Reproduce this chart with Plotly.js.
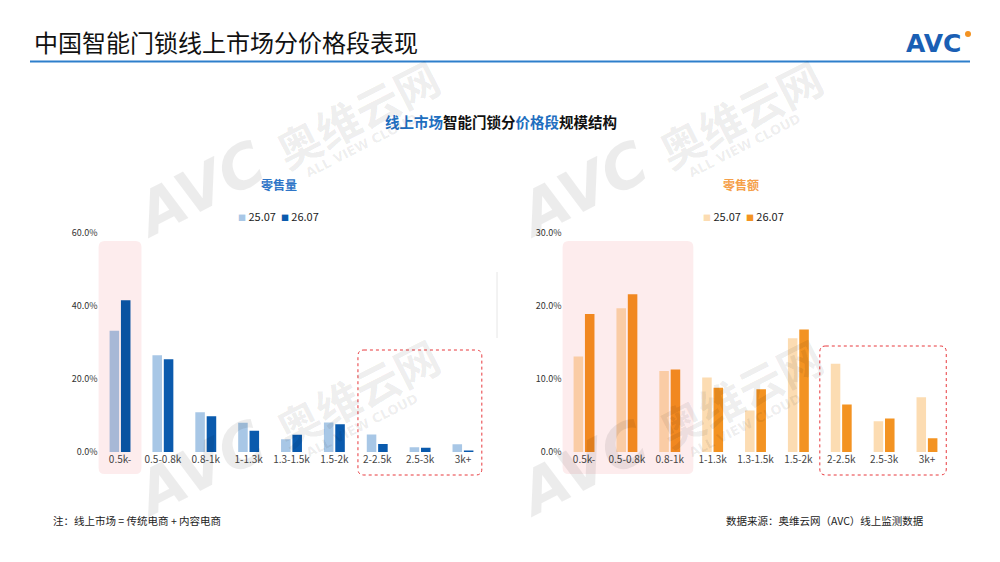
<!DOCTYPE html>
<html>
<head>
<meta charset="utf-8">
<script src="https://cdn.plot.ly/plotly-3.0.1.min.js"></script>
<style>
  html, body { margin: 0; padding: 0; background: #fff; }
  #chart { width: 1000px; height: 562px; }
</style>
</head>
<body>
<div id="chart"></div>
<script>
// price bands
var cats = ['0.5k-', '0.5-0.8k', '0.8-1k', '1-1.3k', '1.3-1.5k', '1.5-2k', '2-2.5k', '2.5-3k', '3k+'];
var periods = ['25.07', '26.07'];

// share of retail volume (%)
var volume2507 = [33.2, 26.5, 10.9, 8.0, 3.5, 8.1, 4.8, 1.3, 2.1];
var volume2607 = [41.6, 25.4, 9.8, 5.8, 4.7, 7.6, 2.2, 1.2, 0.4];

// share of retail sales (%)
var sales2507 = [13.1, 19.7, 11.1, 10.2, 5.7, 15.6, 12.1, 4.2, 7.5];
var sales2607 = [18.9, 21.6, 11.3, 8.8, 8.6, 16.8, 6.5, 4.6, 1.9];

var volTicks = [0, 20, 40, 60];
var salesTicks = [0, 10, 20, 30];

var W = 1000, H = 562;
var FONT = '"Noto Sans CJK SC", "Noto Sans", sans-serif';
var pink = '#fdeced';

var domX1 = [0.0986, 0.4844];
var domX2 = [0.5626, 0.9484];
var domY = [0.1957, 0.5854];

// bars sitting on the pink band look multiplied with it
function hex(c) { return [1, 3, 5].map(function (i) { return parseInt(c.substr(i, 2), 16); }); }
function multiply(c, m) {
  var a = hex(c), b = hex(m);
  return 'rgb(' + a.map(function (v, i) { return Math.round(v * b[i] / 255); }).join(',') + ')';
}
function colors(base, hot) {
  return cats.map(function (c, i) { return hot.indexOf(i) >= 0 ? multiply(base, pink) : base; });
}

var blueLight = '#a8c7e6', blueDark = '#0a5aad';
var orangeLight = '#fcdcb2', orangeDark = '#f39322';

var data = [
  { type: 'bar', name: periods[0], x: cats, y: volume2507, xaxis: 'x', yaxis: 'y',
    marker: { color: colors(blueLight, [0]) }, hoverinfo: 'skip' },
  { type: 'bar', name: periods[1], x: cats, y: volume2607, xaxis: 'x', yaxis: 'y',
    marker: { color: colors(blueDark, [0]) }, hoverinfo: 'skip' },
  { type: 'bar', name: periods[0], x: cats, y: sales2507, xaxis: 'x2', yaxis: 'y2',
    marker: { color: colors(orangeLight, [0, 1, 2]) }, hoverinfo: 'skip' },
  { type: 'bar', name: periods[1], x: cats, y: sales2607, xaxis: 'x2', yaxis: 'y2',
    marker: { color: colors(orangeDark, [0, 1, 2]) }, hoverinfo: 'skip' }
];

// x pixel of a category edge (index units, -0.5 = left edge)
function edge(dom, e) { return (dom[0] + (e + 0.5) / cats.length * (dom[1] - dom[0])) * W; }
function px(x) { return x / W; }
function py(y) { return 1 - y / H; }
function roundBox(x0, y0, x1, y1, r) {
  var rx = r / W, ry = r / H;
  var a = px(x0), b = px(x1), t = py(y0), u = py(y1);
  return 'M' + (a + rx) + ',' + t + ' L' + (b - rx) + ',' + t + ' Q' + b + ',' + t + ' ' + b + ',' + (t - ry) +
    ' L' + b + ',' + (u + ry) + ' Q' + b + ',' + u + ' ' + (b - rx) + ',' + u +
    ' L' + (a + rx) + ',' + u + ' Q' + a + ',' + u + ' ' + a + ',' + (u + ry) +
    ' L' + a + ',' + (t - ry) + ' Q' + a + ',' + t + ' ' + (a + rx) + ',' + t + ' Z';
}

var shapes = [
  { type: 'path', xref: 'paper', yref: 'paper', layer: 'below', path: roundBox(edge(domX1, -0.5), 241, edge(domX1, 0.5), 474, 6),
    fillcolor: pink, line: { width: 0 } },
  { type: 'path', xref: 'paper', yref: 'paper', layer: 'below', path: roundBox(edge(domX2, -0.5), 241, edge(domX2, 2.55), 474, 6),
    fillcolor: pink, line: { width: 0 } },
  { type: 'path', xref: 'paper', yref: 'paper', layer: 'above', path: roundBox(edge(domX1, 5.55), 350, edge(domX1, 8.44), 475, 6),
    fillcolor: 'rgba(0,0,0,0)', line: { color: '#e8383d', width: 1, dash: 'dot' } },
  { type: 'path', xref: 'paper', yref: 'paper', layer: 'above', path: roundBox(edge(domX2, 5.5), 346, edge(domX2, 8.45), 475, 6),
    fillcolor: 'rgba(0,0,0,0)', line: { color: '#e8383d', width: 1, dash: 'dot' } },
  // header rule
  { type: 'line', xref: 'paper', yref: 'paper', x0: px(30), x1: px(970), y0: py(61.5), y1: py(61.5),
    line: { color: '#2e7fcb', width: 2 } },
  // faint divider between panels
  { type: 'line', xref: 'paper', yref: 'paper', x0: px(497), x1: px(497), y0: py(272), y1: py(338),
    line: { color: '#e6e6e6', width: 1 } },
  // logo dot
  { type: 'circle', xref: 'paper', yref: 'paper', x0: px(965), x1: px(971), y0: py(31), y1: py(37),
    fillcolor: '#f39322', line: { width: 0 } }
];

function note(text, x, y, xanchor, font, extra) {
  var a = { text: text, xref: 'paper', yref: 'paper', x: px(x), y: py(y), xanchor: xanchor, yanchor: 'middle',
    showarrow: false, font: font };
  for (var k in extra) a[k] = extra[k];
  return a;
}

function legendText(c1, c2) {
  var sq = function (c) { return '<span style="font-size:8px;color:' + c + '">■</span>'; };
  return sq(c1) + ' ' + periods[0] + '  ' + sq(c2) + ' ' + periods[1];
}

var annotations = [
  note('中国智能门锁线上市场分价格段表现', 32, 42, 'left', { size: 24, color: '#111', family: FONT }),
  note('<b>AVC</b>', 963, 43, 'right', { size: 25, color: '#1a5fb4', family: 'DejaVu Sans, sans-serif' }),
  note('<b><span style="color:#1f6fc0">线上市场</span>智能门锁分<span style="color:#1f6fc0">价格段</span>规模结构</b>',
    501, 121, 'center', { size: 14.5, color: '#111', family: FONT }),
  note('<b>零售量</b>', 279, 184, 'center', { size: 12, color: '#2e75c7', family: FONT }),
  note('<b>零售额</b>', 741, 184, 'center', { size: 12, color: '#f5a04a', family: FONT }),
  note(legendText(blueLight, blueDark), 278, 216, 'center', { size: 11, color: '#222', family: FONT }),
  note(legendText(orangeLight, orangeDark), 743, 216, 'center', { size: 11, color: '#222', family: FONT }),
  note('注：线上市场 = 传统电商 + 内容电商', 51, 520, 'left', { size: 10.5, color: '#222', family: FONT }),
  note('数据来源：奥维云网（AVC）线上监测数据', 926, 520, 'right', { size: 10.5, color: '#222', family: FONT })
];

// watermark tiles
var wmColor = 'rgba(0,0,0,0.075)';
[[357, 113], [740, 113], [357, 392], [740, 392]].forEach(function (p) {
  annotations.push(note('<b>奥维云网</b>', p[0], p[1], 'center',
    { size: 44, color: wmColor, family: FONT }, { textangle: -27 }));
  annotations.push(note('<b>ALL VIEW CLOUD</b>', p[0] + 5, p[1] + 33, 'center',
    { size: 13, color: wmColor, family: 'DejaVu Sans, sans-serif' }, { textangle: -27 }));
  annotations.push(note('<b>AVC</b>', p[0] - 158, p[1] + 76, 'center',
    { size: 60, color: wmColor, family: 'DejaVu Sans, sans-serif', style: 'italic' }, { textangle: -27 }));
});

function xAxis(dom) {
  return { domain: dom, type: 'category', range: [-0.5, cats.length - 0.5], showgrid: false, zeroline: false,
    showline: false, ticks: '', tickfont: { size: 10, color: '#444', family: FONT }, fixedrange: true };
}
function yAxis(dom, ticks, anchor) {
  return { domain: dom, anchor: anchor, range: [0, ticks[ticks.length - 1]], tickmode: 'array', tickvals: ticks,
    ticktext: ticks.map(function (t) { return t.toFixed(1) + '%'; }),
    showgrid: false, zeroline: false, showline: false, ticks: '',
    tickfont: { size: 9, color: '#333', family: FONT }, fixedrange: true };
}

var layout = {
  width: W, height: H, autosize: false,
  margin: { l: 0, r: 0, t: 0, b: 0 },
  paper_bgcolor: '#fff', plot_bgcolor: 'rgba(0,0,0,0)',
  barmode: 'group', bargap: 0.47, bargroupgap: 0.16,
  showlegend: false,
  xaxis: xAxis(domX1),
  yaxis: yAxis(domY, volTicks, 'x'),
  xaxis2: xAxis(domX2),
  yaxis2: yAxis(domY, salesTicks, 'x2'),
  shapes: shapes,
  annotations: annotations,
  font: { family: FONT }
};

Plotly.newPlot('chart', data, layout, { displayModeBar: false, staticPlot: true });
</script>
</body>
</html>
